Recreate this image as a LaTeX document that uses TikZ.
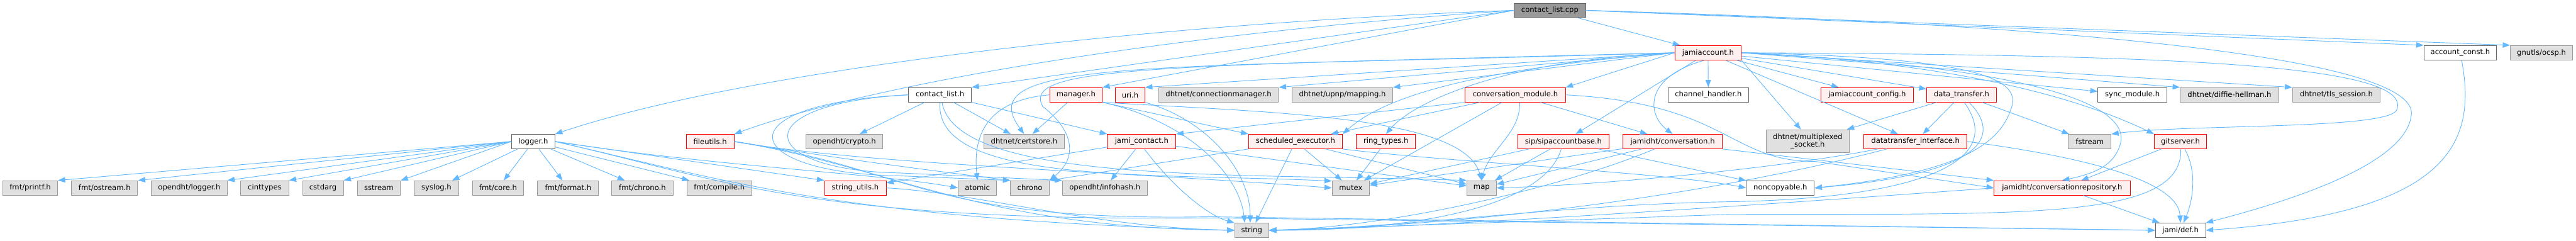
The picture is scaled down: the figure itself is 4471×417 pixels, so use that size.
\documentclass[tikz,border=0pt]{standalone}
\usepackage{fontspec}
\setmainfont{DejaVu Sans}
\usetikzlibrary{arrows.meta}

\definecolor{edgeblue}{HTML}{63B8FF}
\definecolor{sysfill}{HTML}{E0E0E0}
\definecolor{sysline}{HTML}{999999}
\definecolor{hdrline}{HTML}{666666}
\definecolor{cutfill}{HTML}{FFF0F0}
\definecolor{cutline}{HTML}{FF0000}

\tikzset{
  hdrbox/.style={rectangle, draw=hdrline, fill=white, line width=0.75pt, inner sep=0pt,
    minimum height=25*0.75pt, font=\fontsize{9.5}{10.5}\selectfont, text=black},
  sysbox/.style={hdrbox, draw=sysline, fill=sysfill},
  cutbox/.style={hdrbox, draw=cutline, fill=cutfill},
  rootbox/.style={hdrbox, draw=hdrline, fill=sysline},
  bw/.style={minimum width=#1*0.75pt},
  dep/.style={draw=edgeblue, line width=0.75pt, -{Triangle[length=9.5pt,width=7pt]}},
}

\begin{document}
\begin{tikzpicture}[x=0.75pt, y=-0.75pt]
\useasboundingbox (0,0) rectangle (4471,417);

% the file itself and the account headers
\node[rootbox, bw=124] (cpp) at (2690,18) {contact\_list.cpp};
\node[cutbox, bw=115] (jacc) at (2964.5,91.5) {jamiaccount.h};
\node[hdrbox, bw=126] (acconst) at (4270,91.5) {account\_const.h};
\node[sysbox, bw=108] (ocsp) at (4411,91.5) {gnutls/ocsp.h};

% second level
\node[hdrbox, bw=109] (clist) at (1631.5,164.5) {contact\_list.h};
\node[cutbox, bw=91] (manager) at (1867.5,164.5) {manager.h};
\node[cutbox, bw=51] (uri) at (1961.5,164.5) {uri.h};
\node[sysbox, bw=208] (cmgr) at (2115,164.5) {dhtnet/connectionmanager.h};
\node[sysbox, bw=174] (mapping) at (2330,164.5) {dhtnet/upnp/mapping.h};
\node[cutbox, bw=174] (convmod) at (2630,164.5) {conversation\_module.h};
\node[hdrbox, bw=140] (chan) at (2965,164.5) {channel\_handler.h};
\node[cutbox, bw=161] (jaccconf) at (3240.5,164.5) {jamiaccount\_config.h};
\node[cutbox, bw=121] (dtrans) at (3404.5,164.5) {data\_transfer.h};
\node[hdrbox, bw=120] (sync) at (3701,164.5) {sync\_module.h};
\node[sysbox, bw=171] (dh) at (3869.5,164.5) {dhtnet/diffie-hellman.h};
\node[sysbox, bw=152] (tls) at (4055,164.5) {dhtnet/tls\_session.h};

% third level
\node[hdrbox, bw=75] (logger) at (925.5,245.5) {logger.h};
\node[cutbox, bw=83] (futils) at (1232.5,245.5) {fileutils.h};
\node[sysbox, bw=133] (crypto) at (1465.5,245.5) {opendht/crypto.h};
\node[sysbox, bw=139] (certstore) at (1777.5,245.5) {dhtnet/certstore.h};
\node[cutbox, bw=119] (jcontact) at (1981.5,245.5) {jami\_contact.h};
\node[cutbox, bw=163] (sched) at (2248.5,245.5) {scheduled\_executor.h};
\node[cutbox, bw=103] (ringt) at (2405.5,245.5) {ring\_types.h};
\node[cutbox, bw=159] (sipab) at (2713.5,245.5) {sip/sipaccountbase.h};
\node[cutbox, bw=172] (conv) at (2903,245.5) {jamidht/conversation.h};
\node[sysbox, bw=145, minimum height=40*0.75pt, align=center] (msock) at (3137.5,245)
  {dhtnet/multiplexed\\\_socket.h};
\node[cutbox, bw=179] (dti) at (3324.5,245.5) {datatransfer\_interface.h};
\node[sysbox, bw=74] (fstream) at (3627,245.5) {fstream};
\node[cutbox, bw=91] (gits) at (3784.5,245.5) {gitserver.h};

% fourth level
\node[sysbox, bw=95] (printf) at (52.5,326) {fmt/printf.h};
\node[sysbox, bw=115] (ostream) at (181.5,326) {fmt/ostream.h};
\node[sysbox, bw=131] (odlog) at (328.5,326) {opendht/logger.h};
\node[sysbox, bw=83] (cinttypes) at (459.5,326) {cinttypes};
\node[sysbox, bw=71] (cstdarg) at (560.5,326) {cstdarg};
\node[sysbox, bw=75] (sstream) at (657.5,326) {sstream};
\node[sysbox, bw=77] (syslog) at (757.5,326) {syslog.h};
\node[sysbox, bw=89] (fcore) at (864.5,326) {fmt/core.h};
\node[sysbox, bw=106] (fformat) at (986,326) {fmt/format.h};
\node[sysbox, bw=106] (fchrono) at (1115,326) {fmt/chrono.h};
\node[sysbox, bw=113] (fcompile) at (1248.5,326) {fmt/compile.h};
\node[cutbox, bw=107] (strutils) at (1484.5,326) {string\_utils.h};
\node[sysbox, bw=67] (atomic) at (1696.5,326) {atomic};
\node[sysbox, bw=67] (chrono) at (1787.5,326) {chrono};
\node[sysbox, bw=147] (infohash) at (1917.5,326) {opendht/infohash.h};
\node[sysbox, bw=65] (mutex) at (2344.5,326) {mutex};
\node[sysbox, bw=51] (map) at (2571.5,326) {map};
\node[hdrbox, bw=118] (noncopy) at (3090,326) {noncopyable.h};
\node[cutbox, bw=236] (crepo) at (3579,326) {jamidht/conversationrepository.h};

% bottom
\node[sysbox, bw=59] (string) at (2172.5,399.5) {string};
\node[hdrbox, bw=87] (jdef) at (3784.5,399.5) {jami/def.h};

% contact_list.cpp
\draw[dep] (cpp.west) .. controls (2000,40) and (1300,120) .. (logger.north east);
\draw[dep] (cpp.west) .. controls (2000,60) and (1500,150) .. (futils.north east);
\draw[dep] (cpp.west) -- (clist.north east);
\draw[dep] (cpp.west) -- (manager.north east);
\draw[dep] (cpp) -- (jacc);
\draw[dep] (cpp.east) -- (acconst.north west);
\draw[dep] (cpp.east) -- (ocsp.north west);
\draw[dep] (cpp.east) .. controls (3700,45) and (4200,110) .. (4185,200)
  .. controls (4175,290) and (3950,355) .. (jdef.north east);

% jamiaccount.h
\draw[dep] (jacc.west) -- (uri.north east);
\draw[dep] (jacc.west) -- (cmgr.north east);
\draw[dep] (jacc.west) -- (mapping.north east);
\draw[dep] (jacc.west) -- (convmod.north east);
\draw[dep] (jacc) -- (chan);
\draw[dep] (jacc) -- (jaccconf);
\draw[dep] (jacc) -- (dtrans);
\draw[dep] (jacc) -- (sync);
\draw[dep] (jacc.east) -- (dh.north west);
\draw[dep] (jacc.east) -- (tls.north west);
\draw[dep] (jacc.west) .. controls (2000,120) and (1680,100) .. (certstore.north);
\draw[dep] (jacc.west) .. controls (2000,115) and (1770,115) .. (1810,185)
  .. controls (1850,215) and (1880,265) .. (chrono.north east);
\draw[dep] (jacc.west) .. controls (2550,120) and (2400,170) .. (sched.north east);
\draw[dep] (jacc.west) .. controls (2600,105) and (2450,180) .. (ringt.north);
\draw[dep] (jacc) -- (sipab);
\draw[dep] (jacc.-115) .. controls (2850,135) and (2860,200) .. (conv.north);
\draw[dep] (jacc.south east) -- (msock.120);
\draw[dep] (jacc) -- (dti);
\draw[dep] (jacc.east) .. controls (3450,110) and (3650,190) .. (gits.north west);
\draw[dep] (jacc.east) .. controls (3520,115) and (3700,180) .. (3680,250)
  .. controls (3670,285) and (3640,300) .. (crepo.north);
\draw[dep] (jacc.east) .. controls (3750,95) and (4190,110) .. (4160,190)
  .. controls (4150,225) and (3800,215) .. (fstream.north east);
\draw[dep] (jacc.east) .. controls (3450,100) and (3510,140) .. (3490,190)
  .. controls (3470,250) and (3400,300) .. (noncopy.east);

% logger.h
\foreach \tgt in {printf,ostream,odlog,cinttypes,cstdarg,sstream}
  \draw[dep] (logger.west) -- (\tgt.north east);
\foreach \tgt in {syslog,fcore,fformat,fchrono,fcompile}
  \draw[dep] (logger) -- (\tgt);
\draw[dep] (logger.east) -- (strutils.north west);
\draw[dep] (logger.east) .. controls (1250,290) and (1520,300) .. (atomic.west);
\draw[dep] (logger.east) .. controls (1250,310) and (1450,380) .. (string.west);
\draw[dep] (logger.east) .. controls (1250,310) and (1400,385) .. (2100,378) -- (jdef.west);

% fileutils.h and string_utils.h
\draw[dep] (futils.east) .. controls (1450,275) and (1650,300) .. (chrono.north west);
\draw[dep] (futils.east) .. controls (1500,285) and (1900,295) .. (mutex.west);
\draw[dep] (futils.east) .. controls (1550,290) and (1700,395) .. (string.west);
\draw[dep] (futils.east) .. controls (1580,290) and (1600,385) .. (2100,376) -- (jdef.west);
\draw[dep] (strutils.east) .. controls (1700,335) and (1900,395) .. (string.west);

% contact_list.h
\draw[dep] (clist) -- (crypto);
\draw[dep] (clist) -- (certstore);
\draw[dep] (clist.south east) -- (jcontact.north west);
\draw[dep] (clist.south) .. controls (1620,320) and (2000,300) .. (mutex.160);
\draw[dep] (clist.-75) .. controls (1660,320) and (2150,300) .. (map.north west);
\draw[dep] (clist.west) .. controls (1250,180) and (1280,300) .. (1560,305) -- (chrono.north west);
\draw[dep] (clist.west) .. controls (1290,180) and (1310,295) .. (1560,300) -- (infohash.north west);

% manager.h and uri.h
\draw[dep] (manager) -- (certstore);
\draw[dep] (manager.west) .. controls (1700,175) and (1690,250) .. (atomic.north);
\draw[dep] (manager.south east) -- (sched.north west);
\draw[dep] (manager.south east) .. controls (2060,210) and (2150,300) .. ([xshift=-9pt]string.north);
\draw[dep] (manager.south east) .. controls (2200,195) and (2540,200) .. (map.north);
\draw[dep] (uri.south east) .. controls (2100,210) and (2170,300) .. ([xshift=-2pt]string.north);

% jami_contact.h and scheduled_executor.h
\draw[dep] (jcontact) -- (infohash);
\draw[dep] (jcontact) -- (strutils);
\draw[dep] (jcontact) -- (map);
\draw[dep] (jcontact.-70) .. controls (2040,330) and (2100,375) .. (string.north west);
\draw[dep] (sched) -- ([xshift=5pt]string.north);
\draw[dep] (sched) -- (mutex);
\draw[dep] (sched) -- (map);
\draw[dep] (sched.south west) -- (chrono.north east);
\draw[dep] (sched.south east) .. controls (2500,280) and (2900,300) .. (noncopy.west);
\draw[dep] (ringt) -- (mutex);

% conversation_module.h
\draw[dep] (convmod.south west) -- (jcontact.north east);
\draw[dep] (convmod) -- (sched);
\draw[dep] (convmod) -- (mutex);
\draw[dep] (convmod.-60) .. controls (2640,230) and (2585,260) .. (map.north);
\draw[dep] (convmod) -- (conv);
\draw[dep] (convmod.east) .. controls (3000,180) and (3000,280) .. (3150,280) -- (crepo.west);

% sip/sipaccountbase.h and jamidht/conversation.h
\draw[dep] (sipab) -- (noncopy);
\draw[dep] (sipab) -- (mutex);
\draw[dep] (sipab) -- (map);
\draw[dep] (sipab) .. controls (2680,360) and (2450,400) .. (string.east);
\draw[dep] (conv) -- (mutex);
\draw[dep] (conv) -- (map);
\draw[dep] (conv.south east) -- (crepo.north west);
\draw[dep] (conv) .. controls (2700,330) and (2400,395) .. (string.east);

% data transfer
\draw[dep] (dti.east) .. controls (3600,270) and (3780,310) .. (jdef.north);
\draw[dep] (dti) .. controls (3100,290) and (2800,320) .. (map.east);
\draw[dep] (dti) .. controls (3000,330) and (2600,390) .. (string.east);
\draw[dep] (dtrans) -- (msock);
\draw[dep] (dtrans) -- (dti);
\draw[dep] (dtrans) -- (fstream);
\draw[dep] (dtrans) .. controls (3470,230) and (3460,300) .. (noncopy.east);
\draw[dep] (dtrans.-70) .. controls (3490,290) and (3300,345) .. (3000,350)
  .. controls (2700,355) and (2450,395) .. (string.east);

% gitserver.h and the repository
\draw[dep] (gits) -- (crepo);
\draw[dep] (gits) .. controls (3815,300) and (3805,350) .. (jdef);
\draw[dep] (gits) .. controls (3790,385) and (3500,370) .. (3000,372) -- (string.east);
\draw[dep] (crepo) -- (jdef);
\draw[dep] (crepo.west) .. controls (3200,345) and (2500,395) .. (string.east);
\draw[dep] (acconst) .. controls (4300,250) and (4250,370) .. (jdef.east);
\end{tikzpicture}
\end{document}
